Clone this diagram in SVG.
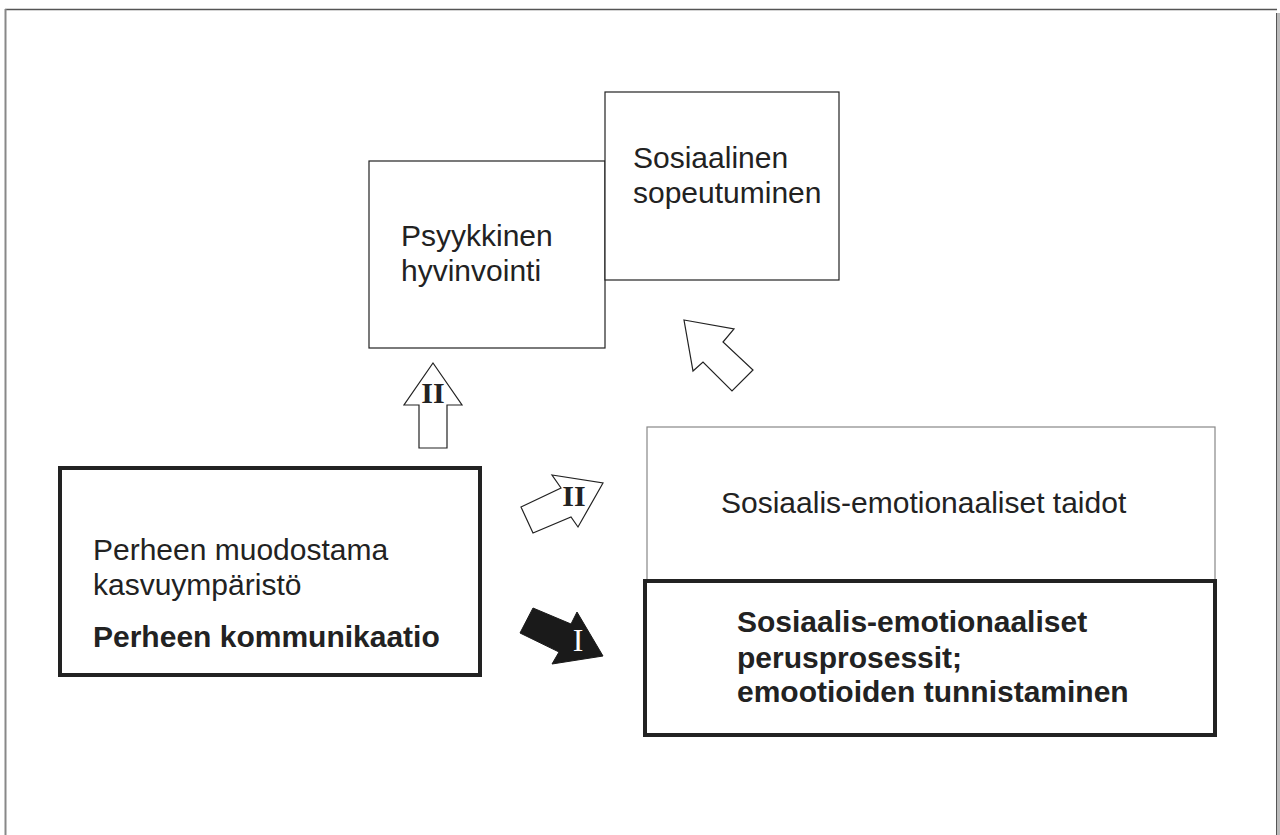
<svg xmlns="http://www.w3.org/2000/svg" width="1280" height="835" viewBox="0 0 1280 835">
<style>
.t{font-family:"Liberation Sans",Arial,sans-serif;font-size:30px;fill:#222}
.b{font-weight:bold}
.box{fill:#fff;stroke:#222;stroke-width:1.2}
.thick{fill:#fff;stroke:#222;stroke-width:4}
.light{fill:#fff;stroke:#888;stroke-width:1.2}
.arr{fill:#fff;stroke:#222;stroke-width:1.2;stroke-linejoin:miter}
.rn{font-family:"Liberation Serif","Times New Roman",serif;font-weight:bold;font-size:30px;fill:#222}
</style>
<rect width="1280" height="835" fill="#fff"/>
<g id="frame">
<rect x="1277" y="13" width="3" height="830" fill="#bbb"/>
<line x1="1276.5" y1="13" x2="1276.5" y2="840" stroke="#555" stroke-width="1"/>
<line x1="5" y1="9.5" x2="1277" y2="9.5" stroke="#555" stroke-width="1.5"/>
<line x1="5.5" y1="9" x2="5.5" y2="840" stroke="#888" stroke-width="2"/>
</g>
<g id="psyykkinen">
<rect class="box" x="369" y="161" width="236" height="187"/>
<text class="t" x="401" y="246">Psyykkinen</text>
<text class="t" x="401" y="281">hyvinvointi</text>
</g>
<g id="sosiaalinen">
<rect class="box" x="605" y="92" width="234" height="188"/>
<text class="t" x="633" y="168">Sosiaalinen</text>
<text class="t" x="633" y="203">sopeutuminen</text>
</g>
<g id="perhe">
<rect class="thick" x="60" y="468" width="420" height="207"/>
<text class="t" x="93" y="560">Perheen muodostama</text>
<text class="t" x="93" y="595">kasvuympäristö</text>
<text class="t b" x="93" y="647">Perheen kommunikaatio</text>
</g>
<g id="taidot">
<rect class="light" x="647" y="427" width="568" height="154"/>
<text class="t" x="721" y="513">Sosiaalis-emotionaaliset taidot</text>
</g>
<g id="perusprosessit">
<rect class="thick" x="645" y="581" width="570" height="154"/>
<text class="t b" x="737" y="632">Sosiaalis-emotionaaliset</text>
<text class="t b" x="737" y="668">perusprosessit;</text>
<text class="t b" x="737" y="702">emootioiden tunnistaminen</text>
</g>
<g id="connectors">
<g id="arrow-up">
<polygon class="arr" points="433,363 462,405 447,405 447,448 419,448 419,405 404,405"/>
<text class="rn" x="433" y="403" text-anchor="middle">II</text>
</g>
<g id="arrow-diag">
<polygon class="arr" points="603,483 578,527 571,517 533,533 521,507 561,488 552,475"/>
<text class="rn" x="574" y="506" text-anchor="middle">II</text>
</g>
<g id="arrow-black">
<polygon points="603,656 552,664 559,652 520,633 533,608 571,624 577,612" fill="#1a1a1a" stroke="#1a1a1a" stroke-width="1"/>
<text x="578" y="651" text-anchor="middle" style="font-family:'Liberation Serif','Times New Roman',serif;font-size:32px;fill:#fff">I</text>
</g>
<g id="arrow-upleft">
<polygon class="arr" points="684,320 734,329 723,342 753,370 732,391 703,362 693,371"/>
</g>
</g>
</svg>
